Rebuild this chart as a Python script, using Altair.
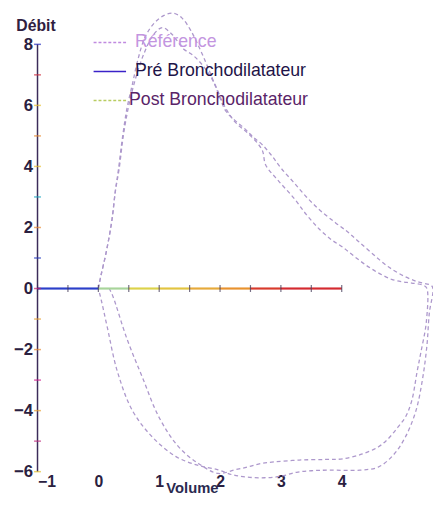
import altair as alt
import pandas as pd

# ---------------- data ----------------
# Loop A (taller expiratory peak, lower inspiratory plateau)
loopA_vol = [0.00, 0.04, 0.13, 0.22, 0.28, 0.33, 0.40, 0.47, 0.56, 0.65, 0.77, 0.92, 1.08, 1.24,
             1.38, 1.52, 1.68, 1.81, 1.96, 2.10, 2.25, 2.40, 2.55, 2.70, 2.85, 3.00, 3.20, 3.42,
             3.65, 3.90, 4.10, 4.27, 4.50, 4.76, 5.03, 5.25, 5.47, 5.50,
             5.44, 5.40, 5.33, 5.22, 5.05, 4.85, 4.60, 4.30, 3.79, 3.50, 3.26, 3.00, 2.73, 2.45,
             2.20, 1.97, 1.65, 1.27, 0.89, 0.56, 0.31, 0.15, 0.05, 0.00]
loopA_flow = [0.0, 0.4, 1.2, 2.2, 3.2, 3.9, 5.0, 5.9, 6.7, 7.5, 8.25, 8.7, 8.95, 9.02,
              8.85, 8.45, 7.8, 7.2, 6.45, 5.8, 5.5, 5.25, 4.95, 4.7, 4.35, 3.95, 3.5, 3.0,
              2.55, 2.15, 1.85, 1.55, 1.15, 0.72, 0.40, 0.22, 0.10, 0.0,
              -0.8, -1.87, -2.94, -4.0, -4.85, -5.45, -5.85, -5.95, -5.95, -5.97, -6.02, -6.15, -6.2, -6.18,
              -6.1, -5.94, -5.8, -5.5, -4.87, -4.0, -2.7, -1.3, -0.4, 0.0]

# Loop B (lower expiratory peak, higher inspiratory plateau)
loopB_vol = [0.00, 0.04, 0.13, 0.22, 0.28, 0.34, 0.41, 0.49, 0.60, 0.75, 0.90, 1.05, 1.20,
             1.40, 1.55, 1.72, 1.90, 2.08, 2.25, 2.45, 2.62, 2.70, 2.75, 2.95, 3.21, 3.42,
             3.63, 3.83, 4.02, 4.24, 4.44, 4.63, 4.82, 5.00, 5.15, 5.35, 5.40,
             5.39, 5.30, 5.24, 5.15, 5.05, 4.92, 4.75, 4.60, 4.34, 4.02, 3.74, 3.30, 2.90,
             2.66, 2.45, 2.24, 1.97, 1.65, 1.32, 1.00, 0.73, 0.47, 0.24, 0.18]
loopB_flow = [0.0, 0.4, 1.2, 2.2, 3.2, 3.9, 5.0, 5.9, 6.8, 7.7, 8.3, 8.55, 8.35,
              7.85, 7.65, 7.3, 6.75, 5.95, 5.45, 5.1, 4.75, 4.5, 4.05, 3.55, 2.97, 2.42,
              1.95, 1.6, 1.35, 1.0, 0.71, 0.48, 0.30, 0.22, 0.18, 0.10, 0.0,
              -1.1, -2.1, -2.71, -3.68, -4.2, -4.55, -4.95, -5.19, -5.42, -5.58, -5.6, -5.62, -5.68,
              -5.74, -5.85, -5.94, -6.06, -5.74, -5.19, -4.23, -2.94, -1.65, -0.26, 0.0]

y_tick_values = list(range(-6, 9))
y_label_values = [-6, -4, -2, 0, 2, 4, 6, 8]
y_axis_extent = [-6, 8]
x_label_values = [-1, 0, 1, 2, 3, 4]
x_tick_values = [-1, -0.5, 0, 0.5, 1, 1.5, 2, 2.5, 3, 3.5, 4]
x_segment_starts = [-1, -0.5, 0, 0.5, 1, 1.5, 2, 2.5, 3, 3.5]
legend_labels = ["Référence", "Pré Bronchodilatateur", "Post Bronchodilatateur"]

# ---------------- tables ----------------
loops = pd.concat([
    pd.DataFrame({"vol": loopA_vol, "flow": loopA_flow, "loop": "A", "ord": range(len(loopA_vol))}),
    pd.DataFrame({"vol": loopB_vol, "flow": loopB_flow, "loop": "B", "ord": range(len(loopB_vol))}),
])
segs = pd.DataFrame({"x0": x_segment_starts, "seg": [str(i) for i in range(len(x_segment_starts))]})
xt = pd.DataFrame({"v": x_tick_values, "zero": 0})
yt = pd.DataFrame({"v": y_tick_values, "k": [str(v) for v in y_tick_values], "xa": -1})
yax = pd.DataFrame({"y0": [y_axis_extent[0]], "y1": [y_axis_extent[1]], "x": [-1]})

FONT = "Liberation Sans"
xs = alt.Scale(domain=[-1, 5.5], nice=False, zero=False)
ys = alt.Scale(domain=[-6.25, 9.06], nice=False, zero=False)

XAX = alt.Axis(
    values=x_label_values, domain=False, ticks=False, grid=False,
    labelPadding=-6, labelFont=FONT, labelFontSize=16, labelFontWeight="bold",
    labelColor="#2a2040", title="Volume", titleFont=FONT, titleFontSize=15,
    titleFontWeight="bold", titleColor="#2a2a50", titleX=157, titleY=8.5,
    titleAlign="center", titleBaseline="middle")
YAX = alt.Axis(
    values=y_label_values, domain=False, ticks=False, grid=False,
    labelPadding=5, labelFont=FONT, labelFontSize=17, labelFontWeight="bold",
    labelColor="#2a2040", title="Débit", titleFont=FONT, titleFontSize=16,
    titleFontWeight="bold", titleColor="#302040", titleAngle=0, titleX=-2, titleY=14,
    titleAlign="center", titleBaseline="middle")

curve_color = "#ad98cc"

lines = alt.Chart(loops).mark_line(
    strokeDash=[4, 3], strokeWidth=1.3, color=curve_color, interpolate="catmull-rom", clip=True
).encode(
    x=alt.X("vol:Q", scale=xs, axis=XAX),
    y=alt.Y("flow:Q", scale=ys, axis=YAX),
    detail="loop:N",
    order="ord:Q",
)

seg_colors = ["#2b3fc9", "#2b3fc9", "#a8d49a", "#dcd24a", "#e2c440",
              "#e6aa3a", "#e8922e", "#d83a2c", "#d42a30", "#d42a30"]
xaxis_line = alt.Chart(segs).transform_calculate(x1="datum.x0 + 0.5", zero="0").mark_rule(strokeWidth=2.2).encode(
    x=alt.X("x0:Q", scale=xs, axis=XAX),
    x2="x1:Q",
    y=alt.Y("zero:Q", scale=ys, axis=YAX),
    color=alt.Color("seg:N", scale=alt.Scale(range=seg_colors), legend=None),
)

x_ticks = alt.Chart(xt).mark_tick(orient="vertical", size=7, thickness=1.2, color="#3a3050").encode(
    x=alt.X("v:Q", scale=xs, axis=XAX),
    y=alt.Y("zero:Q", scale=ys, axis=YAX),
)

yaxis_line = alt.Chart(yax).mark_rule(color="#3b2c5a", strokeWidth=1.5).encode(
    x=alt.X("x:Q", scale=xs, axis=XAX),
    y=alt.Y("y0:Q", scale=ys, axis=YAX),
    y2="y1:Q",
)

tick_colors = ["#e0c030", "#c03080", "#e8a030", "#d02090", "#e88a30", "#e8a030", "#c02070",
               "#2a3fc0", "#e88a30", "#20a8c0", "#e8c030", "#e88a30", "#e8c030", "#d03040",
               "#2a30c0"]
y_ticks = alt.Chart(yt).mark_tick(orient="horizontal", size=7, thickness=1.5).encode(
    x=alt.X("xa:Q", scale=xs, axis=XAX),
    y=alt.Y("v:Q", scale=ys, axis=YAX),
    color=alt.Color("k:N", scale=alt.Scale(domain=[str(v) for v in y_tick_values],
                                           range=tick_colors), legend=None),
)

# legend (drawn as annotations, one row per series)
sample_colors = ["#c08ae0", "#3a22c8", "#b8cc60"]
sample_dash = [[3, 2], [1, 0], [3, 2]]
text_colors = ["#c395e0", "#1e1448", "#5a2468"]
text_x = [99, 99, 93]
leg_layers = []
for i, lab in enumerate(legend_labels):
    row_y = 31 + i * 29.5
    one = pd.DataFrame({"label": [lab]})
    leg_layers.append(
        alt.Chart(one).mark_rule(strokeWidth=1.5, color=sample_colors[i], strokeDash=sample_dash[i]).encode(
            x=alt.value(57), x2=alt.value(90), y=alt.value(row_y)
        )
    )
    leg_layers.append(
        alt.Chart(one).mark_text(align="left", baseline="middle", font=FONT, fontSize=18,
                                 color=text_colors[i]).encode(
            x=alt.value(text_x[i]), y=alt.value(row_y), text="label:N"
        )
    )

chart = alt.layer(
    lines, xaxis_line, x_ticks, yaxis_line, y_ticks, *leg_layers
).resolve_scale(
    color="independent"
).properties(
    width=402, height=475,
    padding={"left": 5, "top": 0, "right": 0, "bottom": 0},
).configure_view(stroke=None)

chart.save("out.html", embed_options={"renderer": "svg", "actions": False})
